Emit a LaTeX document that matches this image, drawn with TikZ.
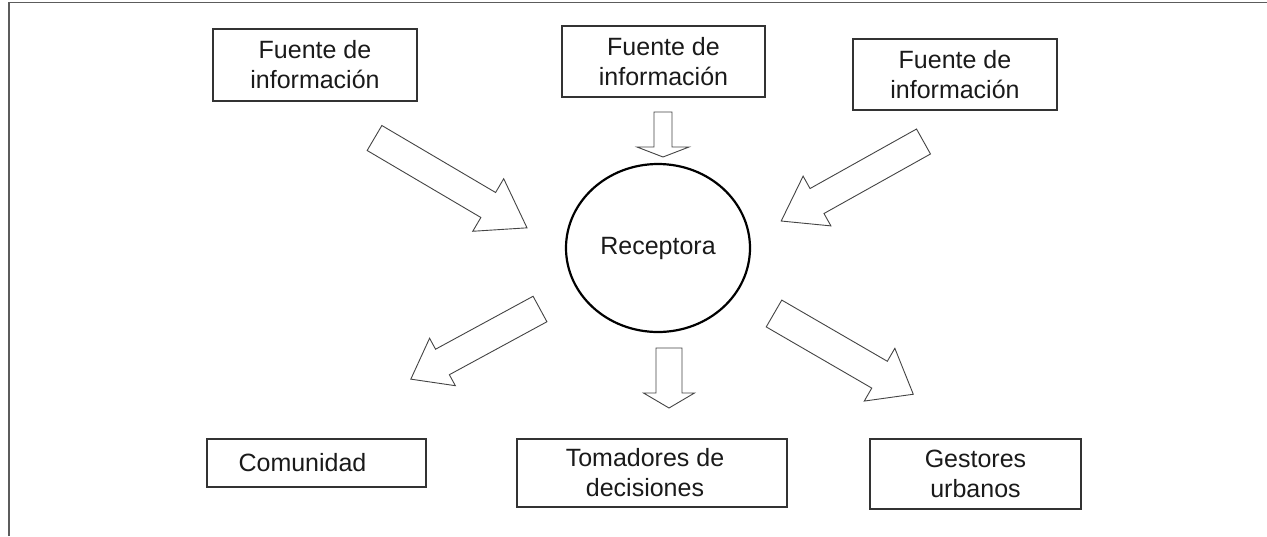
\documentclass[tikz,border=0pt]{standalone}
\usepackage{fontspec}
\setmainfont{Liberation Sans}
\usetikzlibrary{shapes.geometric}
\definecolor{boxline}{HTML}{333333}
\definecolor{arrline}{HTML}{444444}
\definecolor{txt}{HTML}{1A1A1A}
\tikzset{
  lbl/.style={font=\fontsize{25}{30}\selectfont, text=txt, align=center, inner sep=0pt},
  infobox/.style={draw=boxline, line width=1.4pt, lbl},
  frameline/.style={draw=boxline!80!white, line width=1.6pt},
  arrowline/.style={draw=arrline, line width=0.9pt, fill=white, line join=miter},
  pics/barrow/.style n args={4}{code={
    \draw[arrowline] (0,-#2/2) -- (#1-#4,-#2/2) -- (#1-#4,-#3/2) -- (#1,0)
      -- (#1-#4,#3/2) -- (#1-#4,#2/2) -- (0,#2/2) -- cycle;
  }}
}
\begin{document}
\begin{tikzpicture}[x=1pt, y=-1pt]
\useasboundingbox (0,0) rectangle (1267,536);
% frame
\draw[frameline] (9,536) -- (9,2.5) -- (1267,2.5);

% source boxes
\node[infobox, minimum width=204, minimum height=72] (src1) at (315,65) {Fuente de\\información};
\node[infobox, minimum width=203, minimum height=71] (src2) at (663.5,61.5) {Fuente de\\información};
\node[infobox, minimum width=204, minimum height=71] (src3) at (955,74.5) {Fuente de\\información};

% receptor
\node[draw=black, line width=2.2pt, ellipse, minimum width=184, minimum height=168, lbl] (rec) at (658,248) {Receptora};

% target boxes
\node[infobox, minimum width=219, minimum height=48] (com) at (316.5,463) {};
\node[lbl] (comtxt) at ([xshift=-14pt]com.center) {Comunidad};
\node[infobox, minimum width=270, minimum height=68] (tom) at (652,473) {};
\node[lbl] (tomtxt) at ([xshift=-7pt]tom.center) {Tomadores de\\decisiones};
\node[infobox, minimum width=211, minimum height=70] (ges) at (975.5,474) {Gestores\\urbanos};

% block arrows
\pic[rotate=-30.5] at (374.5,138) {barrow={177}{29}{61}{45}};
\pic[rotate=-90] at (663,112) {barrow={45}{18}{52}{10}};
\pic[rotate=209.2] at (923.5,141.5) {barrow={163}{28.6}{57}{41}};
\pic[rotate=208.5] at (540,309) {barrow={147}{29}{54}{36}};
\pic[rotate=-90] at (669,348) {barrow={60}{26}{51}{15}};
\pic[rotate=-30.1] at (774,313.5) {barrow={161}{31}{61}{39}};
\end{tikzpicture}
\end{document}
